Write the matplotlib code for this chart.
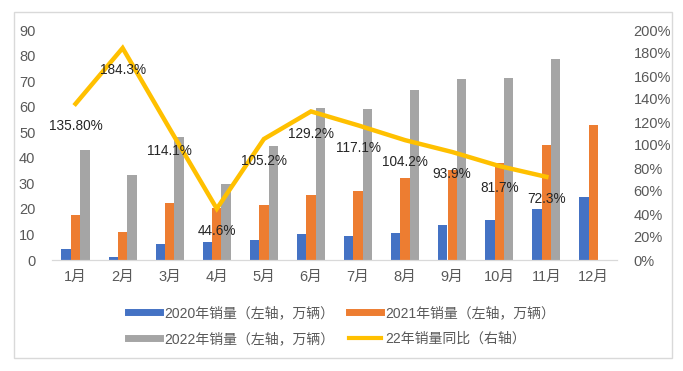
import matplotlib
matplotlib.use("Agg")
import matplotlib.pyplot as plt
import numpy as np
from matplotlib.lines import Line2D
from matplotlib.patches import Rectangle

plt.rcParams['font.family'] = ['Liberation Sans', 'Noto Sans CJK SC', 'DejaVu Sans']

months = ['1月', '2月', '3月', '4月', '5月', '6月', '7月', '8月', '9月', '10月', '11月', '12月']
sales_2020 = [4.4, 1.2, 6.3, 7.0, 7.8, 10.2, 9.4, 10.6, 13.7, 15.6, 20.0, 24.6]
sales_2021 = [17.6, 11.1, 22.3, 20.2, 21.5, 25.4, 27.0, 32.1, 35.2, 38.0, 45.0, 52.8]
sales_2022 = [43.0, 33.3, 48.1, 29.7, 44.7, 59.5, 59.1, 66.5, 70.8, 71.2, 78.6, np.nan]
yoy_2022 = [1.358, 1.843, 1.141, 0.446, 1.052, 1.292, 1.171, 1.042, 0.939, 0.817, 0.723]
yoy_labels = ['135.80%', '184.3%', '114.1%', '44.6%', '105.2%', '129.2%', '117.1%',
              '104.2%', '93.9%', '81.7%', '72.3%']
left_ticks = [0, 10, 20, 30, 40, 50, 60, 70, 80, 90]
right_ticks = [0, 0.2, 0.4, 0.6, 0.8, 1.0, 1.2, 1.4, 1.6, 1.8, 2.0]
right_tick_labels = ['0%', '20%', '40%', '60%', '80%', '100%', '120%', '140%', '160%', '180%', '200%']
series_names = ['2020年销量（左轴，万辆）', '2021年销量（左轴，万辆）',
                '2022年销量（左轴，万辆）', '22年销量同比（右轴）']

c_blue, c_orange, c_gray, c_yellow = '#4472C4', '#ED7D31', '#A5A5A5', '#FFC000'
tick_color = '#595959'

fig = plt.figure(figsize=(6.83, 3.71), dpi=100)
ax = fig.add_axes([52/683, 1-260/371, (617-52)/683, (260-30)/371])
ax2 = ax.twinx()

x = np.arange(len(months))
w = 0.2
ax.bar(x - w, sales_2020, w, color=c_blue, zorder=2)
ax.bar(x, sales_2021, w, color=c_orange, zorder=2)
ax.bar(x + w, sales_2022, w, color=c_gray, zorder=2)

xl = np.arange(len(yoy_2022))
ax2.plot(xl, yoy_2022, color=c_yellow, lw=3.2, solid_joinstyle='miter', zorder=3)
for xi, yi, lab in zip(xl, yoy_2022, yoy_labels):
    ax2.annotate(lab, (xi, yi), xytext=(0, -16), textcoords='offset points',
                 ha='center', va='center', fontsize=9.8, color='#262626', zorder=5)

ax.set_xlim(-0.5, len(months) - 0.5)
ax.set_ylim(0, 90)
ax2.set_ylim(0, 2.0)
ax.set_yticks(left_ticks)
ax.set_yticklabels([str(t) for t in left_ticks])
ax2.set_yticks(right_ticks)
ax2.set_yticklabels(right_tick_labels)
ax.set_xticks(x)
ax.set_xticklabels(months)

for a in (ax, ax2):
    for s in ('top', 'left', 'right'):
        a.spines[s].set_visible(False)
    a.spines['bottom'].set_color('#D9D9D9')
    a.tick_params(length=0, colors=tick_color, labelsize=10.5)
ax.tick_params(axis='y', pad=12)
ax2.tick_params(axis='y', pad=12)
ax.tick_params(axis='x', pad=7)

handles = [Line2D([], [], color=c_blue, lw=5),
           Line2D([], [], color=c_gray, lw=5),
           Line2D([], [], color=c_orange, lw=5),
           Line2D([], [], color=c_yellow, lw=3)]
labels = [series_names[0], series_names[2], series_names[1], series_names[3]]
leg = fig.legend(handles, labels, ncol=2, loc='center', bbox_to_anchor=(0.5, 1-326/371),
                 frameon=False, fontsize=10, handlelength=2.3, handletextpad=0.35,
                 columnspacing=1.0, labelspacing=0.85)
for t in leg.get_texts():
    t.set_color(tick_color)

fig.patches.append(Rectangle((14/683, 1-358/371), 658/683, 346/371, transform=fig.transFigure,
                             fill=False, edgecolor='#D9D9D9', lw=1))

fig.savefig('out.png', dpi=100)
